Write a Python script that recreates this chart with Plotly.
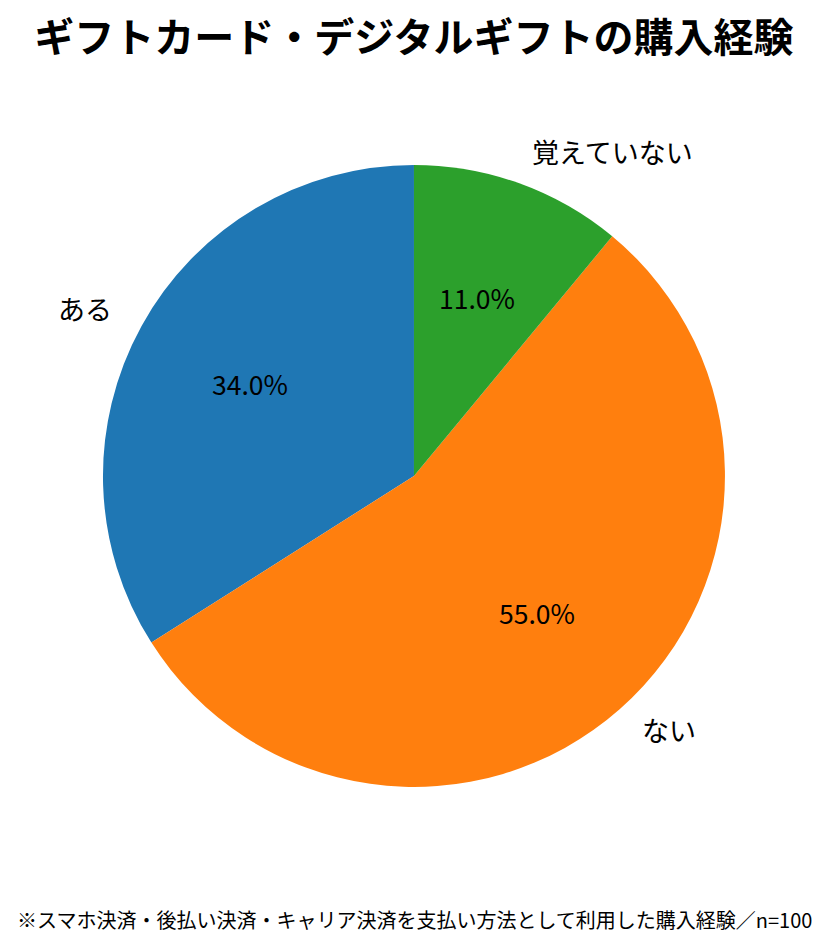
import math
import plotly.graph_objects as go

labels = ["ある", "ない", "覚えていない"]
values = [34, 55, 11]
colors = ["#1f77b4", "#ff7f0e", "#2ca02c"]

TITLE = "ギフトカード・デジタルギフトの購入経験"
NOTE = "※スマホ決済・後払い決済・キャリア決済を支払い方法として利用した購入経験／n=100"

FONT = "Noto Sans CJK JP"
W, H = 828, 948
dom = dict(x=[0.1147, 0.8659], y=[0.1783, 0.8344])
# plotly's counterclockwise pies end the first slice at 12 o'clock; shift so it starts there
rot = -360 * values[0] / sum(values)

fig = go.Figure()
fig.add_trace(go.Pie(
  labels=labels, values=values, sort=False, direction="counterclockwise", rotation=rot,
  marker=dict(colors=colors, line=dict(width=0)),
  textinfo="none", domain=dom, showlegend=False, hoverinfo="label+percent"
))

# labels at 1.1r and percentages at 0.6r along each slice's bisector
cx = sum(dom["x"]) / 2
cy = sum(dom["y"]) / 2
r_px = (dom["x"][1] - dom["x"][0]) * W / 2
total = sum(values)
annots = []
start = 0
for lab, v in zip(labels, values):
  mid = math.radians(90 + 360 * (start + v / 2) / total)
  start += v
  dx, dy = math.cos(mid) * r_px / W, math.sin(mid) * r_px / H
  annots.append(dict(text=lab, x=cx + 1.1 * dx, y=cy + 1.1 * dy, yshift=3,
                     xanchor="left" if dx > 0 else "right", yanchor="middle",
                     font=dict(family=FONT, size=27, color="black")))
  annots.append(dict(text=f"{100 * v / total:.1f}%", x=cx + 0.6 * dx, y=cy + 0.6 * dy, yshift=3,
                     xanchor="center", yanchor="middle",
                     font=dict(family=FONT, size=26.5, color="black")))
annots.append(dict(text=NOTE, x=0.4915, y=0.038, xanchor="center", yanchor="middle",
                   font=dict(family=FONT, size=20, color="black")))
for a in annots:
  a.update(xref="paper", yref="paper", showarrow=False)

fig.update_layout(
  width=W, height=H,
  margin=dict(l=0, r=0, t=0, b=0),
  paper_bgcolor="white",
  font=dict(family=FONT),
  title=dict(text="<b>" + TITLE + "</b>", x=0.4903, xanchor="center", y=0.968, yanchor="middle",
             font=dict(family=FONT, size=40, color="black")),
  annotations=annots
)

fig.write_html("out.html")
